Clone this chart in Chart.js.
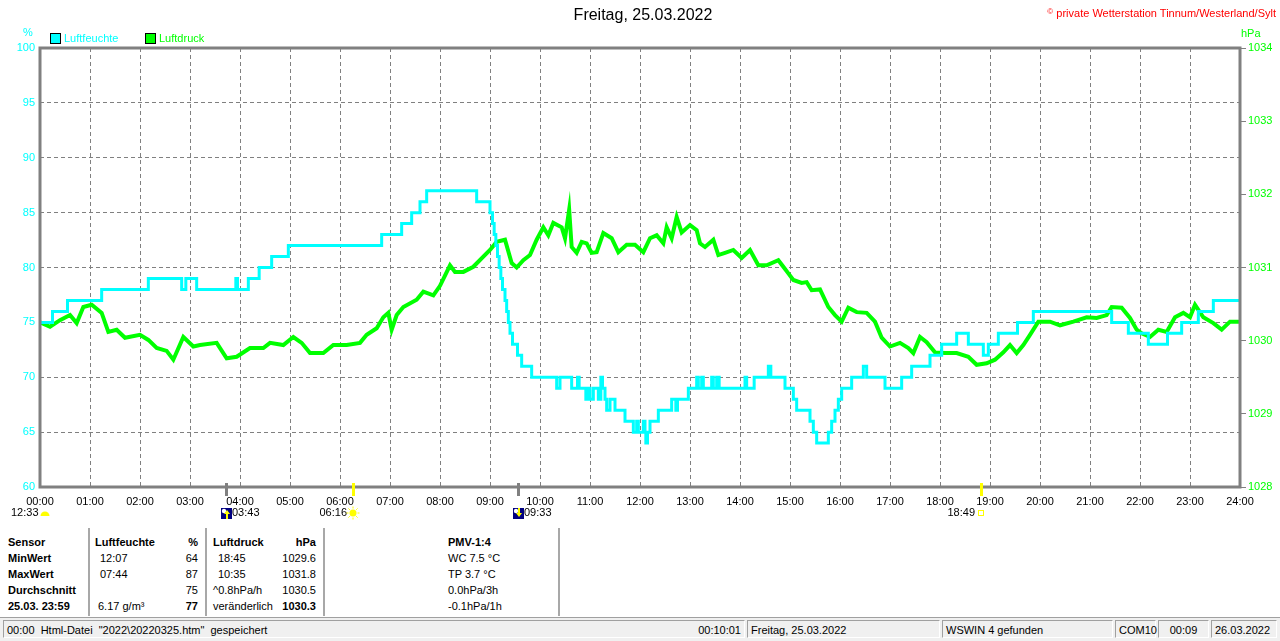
<!DOCTYPE html>
<html>
<head>
<meta charset="utf-8">
<title>Freitag, 25.03.2022</title>
<script src="https://cdn.jsdelivr.net/npm/chart.js@4.4.1/dist/chart.umd.min.js"></script>
<style>
  body { margin: 0; width: 1280px; height: 641px; overflow: hidden; background: #fff;
         font-family: 'Liberation Sans', Arial, sans-serif; font-size: 11px; position: relative; }
  .t { position: absolute; white-space: pre; line-height: 14px; }
  .b { font-weight: bold; }
  .r { text-align: right; }
  #chartBox { position: absolute; left: 0; top: 0; width: 1280px; height: 520px; }
  .sep { position: absolute; top: 528px; height: 88px; width: 2px; background: #a8a8a8; }
  .box { position: absolute; width: 9px; height: 9px; border: 1px solid #000; top: 33px; }
  #status { position: absolute; left: 0; top: 617px; width: 1280px; height: 24px; background: #f0f0f0;
            border-top: 1px solid #a0a0a0; }
  .panel { position: absolute; top: 2px; height: 18px; border: 1px solid; border-color: #a0a0a0 #fff #fff #a0a0a0;
           line-height: 18px; white-space: pre; box-sizing: border-box; padding: 0 3px; }
</style>
</head>
<body>
<div id="chartBox"><canvas id="chart"></canvas></div>

<div class="t" style="left:443px;top:6px;width:400px;text-align:center;font-size:16px;line-height:18px;">Freitag, 25.03.2022</div>
<div class="t r" style="left:876px;top:5px;width:400px;color:#ff0000;"><span style="font-size:8px;vertical-align:3px;">©</span> private Wetterstation Tinnum/Westerland/Sylt</div>
<div class="t" style="left:23px;top:25px;color:#00ffff;">%</div>
<div class="t" style="left:1241px;top:26px;color:#00ff00;">hPa</div>
<div class="box" style="left:50px;background:#00ffff;"></div>
<div class="t" style="left:64px;top:31px;color:#00ffff;">Luftfeuchte</div>
<div class="box" style="left:145px;background:#00ff00;"></div>
<div class="t" style="left:159px;top:31px;color:#00ff00;">Luftdruck</div>

<!-- Tabelle -->
<div class="sep" style="left:88px;"></div>
<div class="sep" style="left:205px;"></div>
<div class="sep" style="left:323px;"></div>
<div class="sep" style="left:558px;"></div>

<div class="t b" style="left:8px;top:535px;">Sensor</div>
<div class="t b" style="left:8px;top:551px;">MinWert</div>
<div class="t b" style="left:8px;top:567px;">MaxWert</div>
<div class="t b" style="left:8px;top:583px;">Durchschnitt</div>
<div class="t b" style="left:8px;top:599px;">25.03. 23:59</div>

<div class="t b" style="left:95px;top:535px;">Luftfeuchte</div>
<div class="t b r" style="left:160px;width:38px;top:535px;">%</div>
<div class="t" style="left:100px;top:551px;">12:07</div>
<div class="t r" style="left:160px;width:38px;top:551px;">64</div>
<div class="t" style="left:100px;top:567px;">07:44</div>
<div class="t r" style="left:160px;width:38px;top:567px;">87</div>
<div class="t r" style="left:160px;width:38px;top:583px;">75</div>
<div class="t" style="left:98px;top:599px;">6.17 g/m³</div>
<div class="t b r" style="left:160px;width:38px;top:599px;">77</div>

<div class="t b" style="left:213px;top:535px;">Luftdruck</div>
<div class="t b r" style="left:266px;width:50px;top:535px;">hPa</div>
<div class="t" style="left:218px;top:551px;">18:45</div>
<div class="t r" style="left:266px;width:50px;top:551px;">1029.6</div>
<div class="t" style="left:218px;top:567px;">10:35</div>
<div class="t r" style="left:266px;width:50px;top:567px;">1031.8</div>
<div class="t" style="left:213px;top:583px;">^0.8hPa/h</div>
<div class="t r" style="left:266px;width:50px;top:583px;">1030.5</div>
<div class="t" style="left:213px;top:599px;">veränderlich</div>
<div class="t b r" style="left:266px;width:50px;top:599px;">1030.3</div>

<div class="t b" style="left:448px;top:535px;">PMV-1:4</div>
<div class="t" style="left:448px;top:551px;">WC 7.5 °C</div>
<div class="t" style="left:448px;top:567px;">TP 3.7 °C</div>
<div class="t" style="left:448px;top:583px;">0.0hPa/3h</div>
<div class="t" style="left:448px;top:599px;">-0.1hPa/1h</div>

<!-- Statuszeile -->
<div id="status">
  <div class="panel" style="left:3px;width:742px;">00:00  Html-Datei  "2022\20220325.htm"  gespeichert<span style="position:absolute;right:3px;">00:10:01</span></div>
  <div class="panel" style="left:747px;width:193px;">Freitag, 25.03.2022</div>
  <div class="panel" style="left:942px;width:171px;">WSWIN 4 gefunden</div>
  <div class="panel" style="left:1115px;width:41px;">COM10</div>
  <div class="panel" style="left:1158px;width:51px;text-align:center;">00:09</div>
  <div class="panel" style="left:1211px;width:66px;">26.03.2022</div>
</div>

<script>
// Luftfeuchte (%) – Zeitpunkt der Änderung und neuer Wert
const humTimes = ['00:00','00:15','00:33','01:14','02:10','02:50','02:55','03:08','03:55','03:57',
  '04:10','04:23','04:38','04:58','06:50','07:14','07:26','07:36','07:44','08:44',
  '09:00','09:03','09:05','09:07','09:09','09:11','09:13','09:15','09:18','09:20',
  '09:22','09:24','09:27','09:33','09:38','09:50','10:20','10:24','10:38','10:45',
  '10:47','10:55','10:58','11:00','11:04','11:10','11:13','11:15','11:18','11:20',
  '11:24','11:30','11:42','11:52','11:56','11:58','12:04','12:06','12:07','12:09',
  '12:12','12:22','12:38','12:43','12:45','12:58','13:08','13:10','13:14','13:16',
  '13:26','13:28','13:32','13:35','14:06','14:08','14:17','14:34','14:37','14:54',
  '15:04','15:08','15:24','15:28','15:32','15:46','15:50','15:54','15:58','16:02',
  '16:14','16:28','16:32','16:54','17:14','17:26','17:48','18:02','18:20','18:34',
  '18:52','18:58','19:10','19:33','19:52','21:26','21:46','22:10','22:33','22:50',
  '23:10','23:28','24:00'];
const humValues = [75,76,77,78,79,78,79,78,79,78,
  79,80,81,82,83,84,85,86,87,86,
  85,84,83,82,81,80,79,78,77,76,
  75,74,73,72,71,70,69,70,69,70,
  69,68,69,68,69,68,70,69,68,67,
  68,67,66,65,66,65,66,65,64,65,
  66,67,68,67,68,69,70,69,70,69,
  70,69,70,69,70,69,70,71,70,69,
  68,67,66,65,64,65,66,67,68,69,
  70,71,70,69,70,71,72,73,74,73,
  72,73,74,75,76,75,74,73,74,75,
  76,77,77];

// Luftdruck (hPa)
const presTimes = ['00:00','00:12','00:24','00:36','00:44','00:52','01:02','01:14','01:22','01:32',
  '01:42','02:00','02:10','02:20','02:32','02:40','02:52','03:04','03:12','03:32',
  '03:44','03:56','04:12','04:28','04:36','04:52','05:04','05:14','05:24','05:40',
  '05:52','06:08','06:24','06:32','06:44','06:52','06:58','07:02','07:08','07:16',
  '07:32','07:40','07:52','08:00','08:12','08:18','08:28','08:40','08:52','09:00',
  '09:08','09:18','09:26','09:32','09:40','09:48','09:56','10:04','10:10','10:16',
  '10:26','10:30','10:35','10:38','10:44','10:50','10:56','11:02','11:08','11:16',
  '11:26','11:34','11:44','11:54','12:04','12:12','12:20','12:28','12:32','12:38',
  '12:44','12:50','13:00','13:08','13:12','13:18','13:28','13:34','13:42','13:52',
  '14:02','14:12','14:22','14:32','14:46','14:52','14:58','15:04','15:14','15:20',
  '15:26','15:36','15:46','15:54','16:02','16:10','16:20','16:32','16:42','16:50',
  '17:00','17:12','17:22','17:28','17:36','17:44','17:54','18:06','18:20','18:34',
  '18:44','18:56','19:06','19:16','19:24','19:32','19:40','19:48','19:58','20:12',
  '20:24','20:40','20:56','21:08','21:20','21:26','21:38','21:48','21:56','22:02',
  '22:12','22:22','22:32','22:42','22:52','23:00','23:06','23:16','23:28','23:38',
  '23:48','24:00'];
const presValues = [1030.25,1030.19,1030.28,1030.35,1030.24,1030.46,1030.49,1030.38,1030.12,1030.15,
  1030.04,1030.08,1030.01,1029.90,1029.86,1029.74,1030.05,1029.92,1029.94,1029.97,
  1029.76,1029.78,1029.90,1029.90,1029.97,1029.94,1030.05,1029.97,1029.83,1029.83,
  1029.94,1029.94,1029.97,1030.08,1030.17,1030.32,1030.38,1030.15,1030.35,1030.46,
  1030.56,1030.67,1030.62,1030.75,1031.03,1030.94,1030.94,1031.01,1031.15,1031.24,
  1031.35,1031.38,1031.06,1031.00,1031.10,1031.17,1031.38,1031.55,1031.44,1031.61,
  1031.55,1031.40,1031.79,1031.28,1031.20,1031.35,1031.33,1031.20,1031.21,1031.47,
  1031.40,1031.21,1031.31,1031.31,1031.21,1031.40,1031.44,1031.33,1031.55,1031.40,
  1031.69,1031.48,1031.58,1031.51,1031.33,1031.28,1031.38,1031.17,1031.20,1031.24,
  1031.13,1031.24,1031.03,1031.03,1031.10,1031.01,1030.92,1030.83,1030.79,1030.80,
  1030.69,1030.70,1030.46,1030.35,1030.26,1030.45,1030.39,1030.38,1030.26,1030.04,
  1029.92,1029.97,1029.90,1029.83,1030.05,1029.98,1029.84,1029.83,1029.83,1029.78,
  1029.67,1029.69,1029.74,1029.84,1029.94,1029.83,1029.94,1030.08,1030.26,1030.26,
  1030.21,1030.26,1030.32,1030.31,1030.35,1030.46,1030.45,1030.31,1030.15,1030.10,
  1030.05,1030.15,1030.12,1030.32,1030.38,1030.32,1030.49,1030.32,1030.24,1030.15,
  1030.26,1030.26];

const hourLabels = ['00:00','01:00','02:00','03:00','04:00','05:00','06:00','07:00','08:00','09:00',
  '10:00','11:00','12:00','13:00','14:00','15:00','16:00','17:00','18:00','19:00',
  '20:00','21:00','22:00','23:00','24:00'];

// Mond/Sonne auf- und untergang
const moonLabel = '12:33';
const eventTimes = ['03:43', '06:16', '09:33', '18:49'];
const eventKinds = ['moonUp', 'sunUp', 'moonDown', 'sunDown'];

const FONT = "'Liberation Sans', Arial, sans-serif";

function toMin(s) {
    var p = s.split(':');
    return parseInt(p[0], 10) * 60 + parseInt(p[1], 10);
}

const framePlugin = {
    id: 'frame',
    afterDraw(chart) {
        const ctx = chart.ctx;
        const a = chart.chartArea;
        const xs = chart.scales.x;
        ctx.save();
        ctx.strokeStyle = '#808080';
        ctx.lineWidth = 3;
        ctx.strokeRect(a.left, a.top, a.right - a.left, a.bottom - a.top);

        ctx.font = '11px ' + FONT;
        ctx.textBaseline = 'middle';
        const ty = 513;

        // Mond-Untergang links
        ctx.fillStyle = '#000';
        ctx.textAlign = 'left';
        ctx.fillText(moonLabel, 11, ty);
        ctx.fillStyle = '#ffff00';
        ctx.beginPath();
        ctx.arc(45, 516, 4.5, Math.PI, 0);
        ctx.closePath();
        ctx.fill();

        eventTimes.forEach(function (t, i) {
            const px = Math.round(xs.getPixelForValue(toMin(t)));
            const kind = eventKinds[i];
            const sun = kind.indexOf('sun') === 0;
            ctx.fillStyle = sun ? '#ffff00' : '#808080';
            ctx.fillRect(px - 1, a.bottom - 4, 3, 13);

            if (!sun) {
                ctx.fillStyle = '#000080';
                ctx.fillRect(px - 5, 508, 11, 11);
                ctx.fillStyle = '#fff';
                ctx.beginPath();
                ctx.arc(px - 2, 511, 2.2, 0, Math.PI * 2);
                ctx.fill();
                ctx.fillStyle = '#ffff00';
                ctx.beginPath();
                if (kind === 'moonUp') {
                    ctx.moveTo(px + 1, 510); ctx.lineTo(px + 4, 514); ctx.lineTo(px - 2, 514);
                    ctx.fill();
                    ctx.fillRect(px, 514, 2, 5);
                } else {
                    ctx.moveTo(px + 1, 517); ctx.lineTo(px + 4, 513); ctx.lineTo(px - 2, 513);
                    ctx.fill();
                    ctx.fillRect(px, 508, 2, 5);
                }
                ctx.fillStyle = '#000';
                ctx.textAlign = 'left';
                ctx.fillText(t, px + 6, ty);
            } else {
                ctx.fillStyle = '#000';
                ctx.textAlign = 'right';
                ctx.fillText(t, px - 6, ty);
                ctx.strokeStyle = '#ffff00';
                ctx.fillStyle = '#ffff00';
                ctx.lineWidth = 1;
                if (kind === 'sunUp') {
                    ctx.beginPath();
                    ctx.arc(px, ty, 3.5, 0, Math.PI * 2);
                    ctx.fill();
                    for (var k = 0; k < 8; k++) {
                        var ang = k * Math.PI / 4;
                        ctx.beginPath();
                        ctx.moveTo(px + Math.cos(ang) * 4.5, ty + Math.sin(ang) * 4.5);
                        ctx.lineTo(px + Math.cos(ang) * 6.5, ty + Math.sin(ang) * 6.5);
                        ctx.stroke();
                    }
                } else {
                    ctx.strokeRect(px - 2.5, ty - 2.5, 5, 5);
                }
            }
        });
        ctx.restore();
    }
};

Chart.defaults.font.family = FONT;
Chart.defaults.font.size = 11;

new Chart(document.getElementById('chart'), {
    type: 'line',
    data: {
        datasets: [{
            label: 'Luftfeuchte',
            data: humTimes.map(function (t, i) { return { x: toMin(t), y: humValues[i] }; }),
            borderColor: '#00ffff',
            backgroundColor: '#00ffff',
            borderWidth: 3,
            stepped: true,
            pointRadius: 0,
            yAxisID: 'yH'
        }, {
            label: 'Luftdruck',
            data: presTimes.map(function (t, i) { return { x: toMin(t), y: presValues[i] }; }),
            borderColor: '#00ff00',
            backgroundColor: '#00ff00',
            borderWidth: 4,
            tension: 0,
            pointRadius: 0,
            yAxisID: 'yP'
        }]
    },
    options: {
        animation: false,
        responsive: true,
        maintainAspectRatio: false,
        layout: { padding: { top: 48, left: 0, right: 0, bottom: 0 } },
        plugins: { legend: { display: false }, tooltip: { enabled: false } },
        scales: {
            x: {
                type: 'linear',
                min: 0,
                max: 1440,
                afterBuildTicks: function (scale) {
                    scale.ticks = hourLabels.map(function (l, i) { return { value: i * 60 }; });
                },
                afterFit: function (scale) { scale.height = 33; },
                ticks: {
                    autoSkip: false,
                    maxRotation: 0,
                    color: '#000',
                    padding: 8,
                    callback: function (v, i) { return hourLabels[i]; }
                },
                grid: { color: '#808080', lineWidth: 1, drawTicks: false },
                border: { display: false, dash: [4, 3] }
            },
            yH: {
                position: 'left',
                min: 60,
                max: 100,
                afterFit: function (scale) { scale.width = 40; },
                ticks: { stepSize: 5, color: '#00ffff', padding: 5, callback: function (v) { return String(v); } },
                grid: { color: '#808080', lineWidth: 1, drawTicks: false },
                border: { display: false, dash: [4, 3] }
            },
            yP: {
                position: 'right',
                min: 1028,
                max: 1034,
                afterFit: function (scale) { scale.width = 40; },
                ticks: { stepSize: 1, color: '#00ff00', padding: 2, callback: function (v) { return String(v); } },
                grid: { drawOnChartArea: false, drawTicks: true, tickLength: 6, color: '#808080' },
                border: { display: false }
            }
        }
    },
    plugins: [framePlugin]
});
</script>
</body>
</html>
